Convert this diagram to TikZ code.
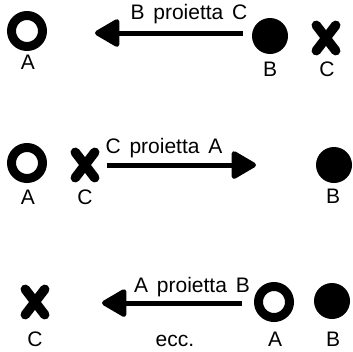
\documentclass[tikz,border=0pt]{standalone}
\usepackage{fontspec}
\setmainfont{Liberation Sans}[WordSpace=1.5]
\usetikzlibrary{arrows.meta}
\begin{document}
\begin{tikzpicture}[x=1pt,y=-1pt,font=\fontsize{21}{23}\selectfont]
     \tikzstyle{anello}=[circle,draw,line width=9pt,minimum size=31pt,inner sep=0pt]
     \tikzstyle{pallino}=[circle,fill,minimum size=36pt,inner sep=0pt]
     \tikzstyle{croce}=[minimum width=19pt,minimum height=25pt,inner sep=0pt]
     \tikzstyle{tratto}=[line width=9.5pt,line cap=round]
     \tikzstyle{freccia}=[line width=5pt,-{Triangle[length=27pt,width=30pt,round]}]
     \tikzstyle{lettera}=[anchor=base,inner sep=0pt]
     \useasboundingbox (0,0) rectangle (353,351);
     % prima riga
     \node[anello] (a1) at (27,31) {};
     \node[pallino] (b1) at (270,36) {};
     \node[croce] (c1) at (326,38) {};
     \draw[tratto] (c1.north west) -- (c1.south east) (c1.north east) -- (c1.south west);
     \node[lettera] (la1) at (28,69) {A};
     \node[lettera] (lb1) at (270,76) {B};
     \node[lettera] (lc1) at (327,76) {C};
     \coordinate (s1) at (243,33);
     \coordinate (t1) at (95,33);
     \draw[freccia] (s1) -- (t1);
     \node[lettera] (txt1) at (189,19) {B proietta C};
     % seconda riga
     \node[anello] (a2) at (27,163) {};
     \node[croce] (c2) at (85,165) {};
     \draw[tratto] (c2.north west) -- (c2.south east) (c2.north east) -- (c2.south west);
     \node[pallino] (b2) at (334,165) {};
     \node[lettera] (la2) at (28,204) {A};
     \node[lettera] (lc2) at (85,204) {C};
     \node[lettera] (lb2) at (333,203) {B};
     \coordinate (s2) at (107,165);
     \coordinate (t2) at (256,165);
     \draw[freccia] (s2) -- (t2);
     \node[lettera] (txt2) at (164,153) {C proietta A};
     % terza riga
     \node[croce] (c3) at (35,302) {};
     \draw[tratto] (c3.north west) -- (c3.south east) (c3.north east) -- (c3.south west);
     \node[anello] (a3) at (274,302) {};
     \node[pallino] (b3) at (332,301) {};
     \node[lettera] (lc3) at (35,346) {C};
     \node[lettera] (la3) at (275,346) {A};
     \node[lettera] (lb3) at (333,346) {B};
     \coordinate (s3) at (242,303);
     \coordinate (t3) at (102,303);
     \draw[freccia] (s3) -- (t3);
     \node[lettera] (txt3) at (192,292) {A proietta B};
     \node[lettera] (ecc) at (175,346) {ecc.};
    \end{tikzpicture}
\end{document}
